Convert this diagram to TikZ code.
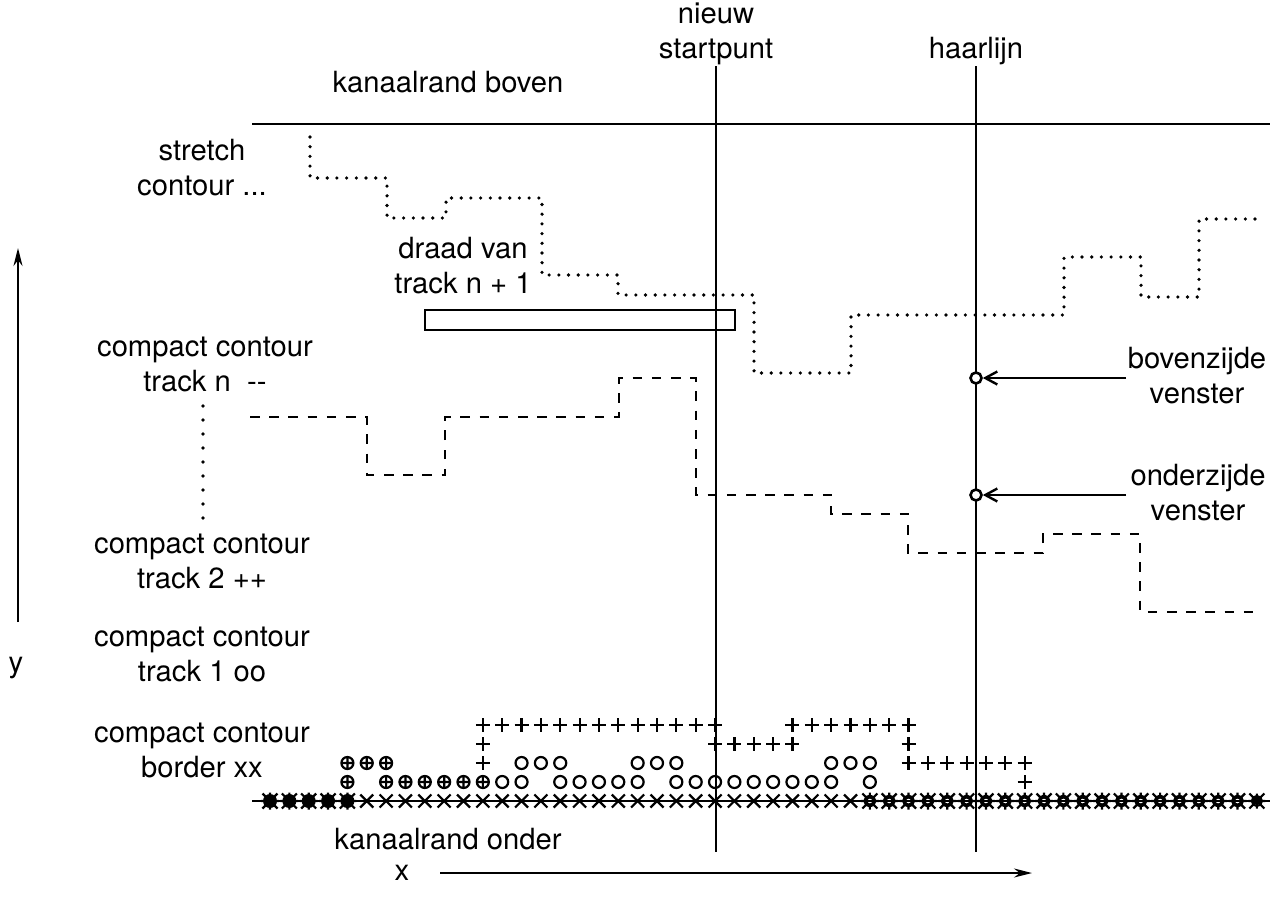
\documentclass[tikz,border=0pt]{standalone}
\usepackage{fontspec}
\setmainfont{TeX Gyre Heros}
\usetikzlibrary{arrows.meta}

\begin{document}
\begin{tikzpicture}[x=0.5pt,y=-0.5pt,
  font=\fontsize{14.6}{17.5}\selectfont,
  label text/.style={align=center,anchor=base,inner sep=0pt},
  edge line/.style={line width=1pt},
  hair line/.style={line width=0.9pt},
  wire line/.style={line width=1.2pt},
  stretch line/.style={line width=1.8pt,line cap=round,dash pattern=on 0pt off 4.85pt},
  compact line/.style={line width=1.4pt,dash pattern=on 4.8pt off 4.8pt},
  pointer/.style={line width=0.9pt,-{Straight Barb[length=6pt,width=6.5pt,line width=1.2pt]}},
  axis/.style={line width=0.9pt,-{Stealth[length=9pt,width=4.5pt]}},
  window node/.style={circle,draw,fill=white,line width=1.3pt,inner sep=0pt,minimum size=5.5pt},
  mk/.style={line width=1.1pt},
  crossmk/.pic={\draw[mk] (-6.5,-6.5) -- (6.5,6.5) (-6.5,6.5) -- (6.5,-6.5);},
  plusmk/.pic={\draw[mk] (-7,0) -- (7,0) (0,-7) -- (0,7);},
  ringmk/.pic={\draw[mk] (0,0) circle (6);},
  oplusmk/.pic={\draw[mk] (0,0) circle (6) (-6,0) -- (6,0) (0,-6) -- (0,6);},
  blobmk/.pic={\fill (0,0) circle (7);
    \draw[mk] (-7.5,-7.5) -- (7.5,7.5) (-7.5,7.5) -- (7.5,-7.5) (-9,0) -- (9,0) (0,-8.5) -- (0,8.5);},
  holemk/.pic={\draw[line width=1.9pt] (0,0) circle (4.5);
    \draw[mk] (-7.5,-7.5) -- (-2.5,-2.5) (7.5,7.5) -- (2.5,2.5) (-7.5,7.5) -- (-2.5,2.5) (7.5,-7.5) -- (2.5,-2.5)
      (-9,0) -- (-3,0) (9,0) -- (3,0) (0,-8.5) -- (0,-3) (0,8.5) -- (0,3);},
  starmk/.pic={\draw[mk] (0,0) circle (5) (-7.5,-7.5) -- (7.5,7.5) (-7.5,7.5) -- (7.5,-7.5) (-8.5,0) -- (8.5,0) (0,-7.5) -- (0,7.5);}
]
  \useasboundingbox (0,0) rectangle (1278,910);

  % labels
  \node[label text] (boven) at (448,92) {kanaalrand boven};
  \node[label text] (nieuw) at (716,58) {nieuw\\startpunt};
  \node[label text] (haar) at (976,58) {haarlijn};
  \node[label text] (stretch) at (202,195) {stretch\\contour ...};
  \node[label text] (draad) at (463,293) {draad van\\track n + 1};
  \node[label text] (cc n) at (205,391) {compact contour\\track n \ -{}-};
  \node[label text] (cc 2) at (202,588) {compact contour\\track 2 ++};
  \node[label text] (cc 1) at (202,681) {compact contour\\track 1 oo};
  \node[label text] (cc b) at (202,777) {compact contour\\border xx};
  \node[label text] (onder) at (448,849) {kanaalrand onder};
  \node[label text] (bovz) at (1197,403) {bovenzijde\\venster};
  \node[label text] (ondz) at (1198,520) {onderzijde\\venster};
  \node[label text] (ylbl) at (16,672) {y};
  \node[label text] (xlbl) at (402,880) {x};

  % channel edges and vertical lines
  \coordinate (top w) at (252,124);  \coordinate (top e) at (1270,124);
  \coordinate (bot w) at (252,801);  \coordinate (bot e) at (1270,801);
  \coordinate (ns top) at (716,66);  \coordinate (ns bot) at (716,852);
  \coordinate (hl top) at (976,66);  \coordinate (hl bot) at (976,852);
  \draw[edge line] (top w) -- (top e);
  \draw[edge line] (bot w) -- (bot e);
  \draw[hair line] (ns top) -- (ns bot);
  \draw[hair line] (hl top) -- (hl bot);

  % stretch contour
  \draw[stretch line] (310,137) |- (387,178) |- (446,218) |- (542,198) |- (618,275)
    |- (754,295) |- (851,373) |- (1064,315) |- (1141,257) |- (1199,297) |- (1257,219);

  % compact contour track n
  \draw[compact line] (250,417) -| (367,475) -| (445,417) -| (619,378) -| (696,495)
    -| (831,514) -| (908,553) -| (1043,534) -| (1140,612) -- (1255,612);

  % wire of track n+1
  \draw[wire line] (425,310) rectangle (735,330);

  % dots between track n and track 2
  \coordinate (dots top) at (203,406); \coordinate (dots bot) at (203,526);
  \draw[stretch line,dash pattern=on 0pt off 7pt] (dots top) -- (dots bot);

  % window
  \node[window node] (bov) at (976,378) {};
  \node[window node] (ond) at (976,495) {};
  \coordinate (bov tail) at (1126,378);
  \coordinate (ond tail) at (1126,495);
  \draw[pointer] (bov tail) -- (bov);
  \draw[pointer] (ond tail) -- (ond);

  % axes
  \coordinate (y bot) at (18,622); \coordinate (y top) at (18,248);
  \coordinate (x left) at (440,873); \coordinate (x right) at (1032,873);
  \draw[axis] (y bot) -- (y top);
  \draw[axis] (x left) -- (x right);

  % border row
  \foreach \i in {0,...,4} \pic at ({270+19.35*\i},801) {blobmk};
  \foreach \i in {5,...,30} \pic at ({270+19.35*\i},801) {crossmk};
  \foreach \i in {31,...,50} \pic at ({270+19.35*\i},801) {holemk};
  \pic at ({270+19.35*51},801) {starmk};

  % track 1
  \foreach \i in {4,6,7,8,9,10,11} \pic at ({270+19.35*\i},782) {oplusmk};
  \foreach \i in {4,5,6} \pic at ({270+19.35*\i},763) {oplusmk};
  \foreach \i in {12,13,15,16,17,18,19,21,22,23,24,25,26,27,28,29,31}
    \pic at ({270+19.35*\i},782) {ringmk};
  \foreach \i in {13,14,15,19,20,21,29,30,31} \pic at ({270+19.35*\i},763) {ringmk};

  % track 2
  \foreach \i in {11,...,23,27,28,29,30,31,32,33} \pic at ({270+19.35*\i},725) {plusmk};
  \foreach \i in {11,23,24,25,26,27,33} \pic at ({270+19.35*\i},744) {plusmk};
  \foreach \i in {11,33,34,35,36,37,38,39} \pic at ({270+19.35*\i},763) {plusmk};
  \pic at ({270+19.35*39},782) {plusmk};
\end{tikzpicture}
\end{document}
